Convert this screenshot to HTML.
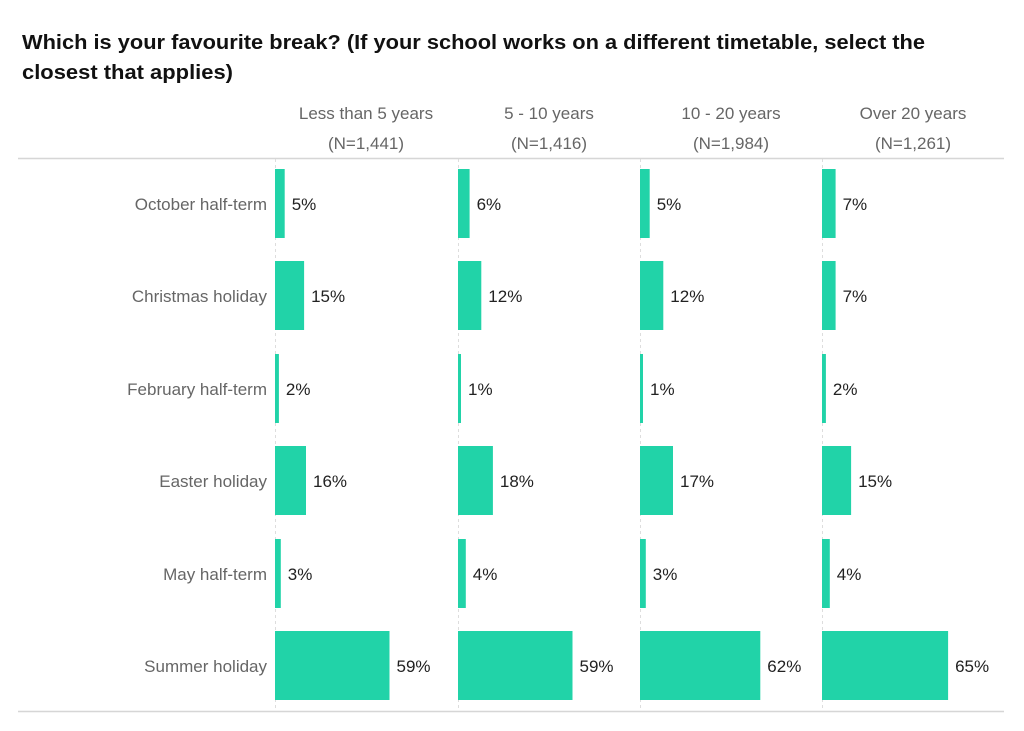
<!DOCTYPE html>
<html><head><meta charset="utf-8"><style>
html,body{margin:0;padding:0;background:#fff;}
svg{display:block;font-family:"Liberation Sans",sans-serif;}
</style></head><body>
<svg width="1024" height="731" viewBox="0 0 1024 731" xmlns="http://www.w3.org/2000/svg">
<text x="22" y="49" font-size="20" font-weight="bold" fill="#111" textLength="903" lengthAdjust="spacingAndGlyphs">Which is your favourite break? (If your school works on a different timetable, select the</text>
<text x="22" y="79" font-size="20" font-weight="bold" fill="#111" textLength="211" lengthAdjust="spacingAndGlyphs">closest that applies)</text>
<g font-size="17" fill="#666" text-anchor="middle">
<text x="366" y="119">Less than 5 years</text><text x="366" y="149">(N=1,441)</text>
<text x="549" y="119">5 - 10 years</text><text x="549" y="149">(N=1,416)</text>
<text x="731" y="119">10 - 20 years</text><text x="731" y="149">(N=1,984)</text>
<text x="913" y="119">Over 20 years</text><text x="913" y="149">(N=1,261)</text>
</g>
<line x1="18" y1="158.5" x2="1004" y2="158.5" stroke="#d6d6d6" stroke-width="1.5"/>
<line x1="18" y1="711.5" x2="1004" y2="711.5" stroke="#d6d6d6" stroke-width="1.5"/>
<g stroke="#ddd" stroke-dasharray="3,3">
<line x1="275.5" y1="159" x2="275.5" y2="711"/>
<line x1="458.5" y1="159" x2="458.5" y2="711"/>
<line x1="640.5" y1="159" x2="640.5" y2="711"/>
<line x1="822.5" y1="159" x2="822.5" y2="711"/>
</g>
<g font-size="17" fill="#666" text-anchor="end">
<text x="267" y="210">October half-term</text>
<text x="267" y="302">Christmas holiday</text>
<text x="267" y="395">February half-term</text>
<text x="267" y="487">Easter holiday</text>
<text x="267" y="580">May half-term</text>
<text x="267" y="672">Summer holiday</text>
</g>
<g id="bars"></g>
</svg>
<script>
var d=[[5,15,2,16,3,59],[6,12,1,18,4,59],[5,12,1,17,3,62],[7,7,2,15,4,65]];
var xs=[275,458,640,822],ys=[169,261,354,446,539,631];
var g=document.getElementById('bars'),s='';
for(var c=0;c<4;c++)for(var r=0;r<6;r++){var v=d[c][r],w=Math.max(3,v*1.94);
s+='<rect x="'+xs[c]+'" y="'+ys[r]+'" width="'+w.toFixed(1)+'" height="69" fill="#21d3a8"/>';
s+='<text x="'+(xs[c]+w+7).toFixed(1)+'" y="'+(ys[r]+41)+'" font-size="17" fill="#222">'+v+'%</text>';}
g.innerHTML=s;
</script>
</body></html>
